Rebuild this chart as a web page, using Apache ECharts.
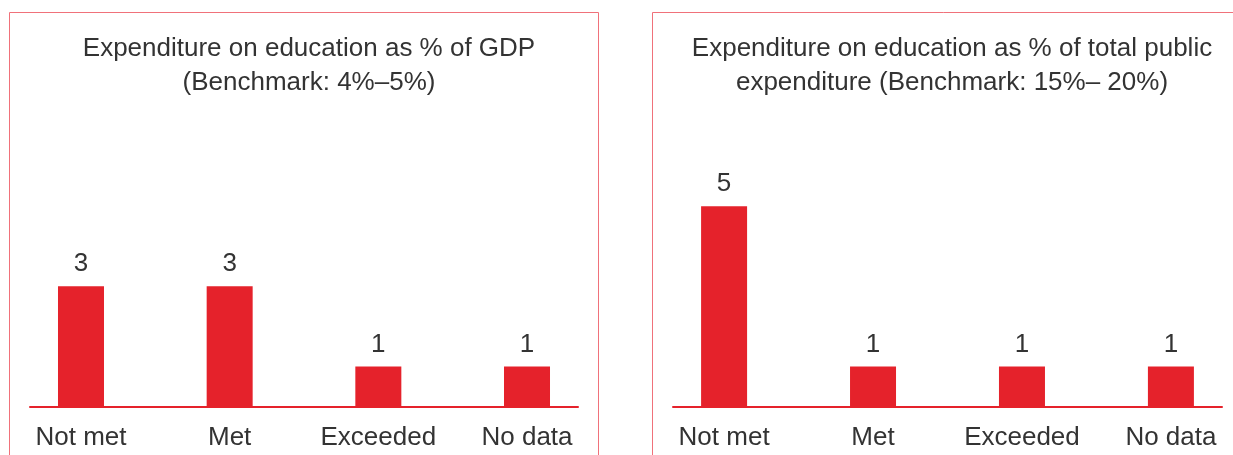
<!DOCTYPE html>
<html>
<head>
<meta charset="utf-8">
<script src="https://cdn.jsdelivr.net/npm/echarts@6/dist/echarts.min.js"></script>
<style>
  html, body { margin: 0; padding: 0; background: #fff; }
  #main { width: 1233px; height: 455px; }
</style>
</head>
<body>
<div id="main"></div>
<script>
var categories = ['Not met', 'Met', 'Exceeded', 'No data'];
var gdpValues = [3, 3, 1, 1];
var publicValues = [5, 1, 1, 1];
var gdpTitle = 'Expenditure on education as % of GDP\n(Benchmark: 4%\u20135%)';
var publicTitle = 'Expenditure on education as % of total public\nexpenditure (Benchmark: 15%\u2013 20%)';

var red = '#e5222b';
var frame = '#f0717a';
var textColor = '#333';
var font = 'Liberation Sans';

function toPoints(vals) {
    return vals.map(function (v, i) { return [i, v]; });
}

function xAx(idx) {
    return {
        gridIndex: idx,
        type: 'value',
        min: -0.343,
        max: 3.343,
        axisLine: { show: true, onZero: false, lineStyle: { color: red, width: 2 } },
        axisTick: { show: false },
        splitLine: { show: false },
        axisLabel: {
            customValues: [0, 1, 2, 3],
            formatter: function (v) { return categories[Math.round(v)]; },
            color: textColor,
            fontFamily: font,
            fontSize: 26,
            margin: 18
        }
    };
}

function yAx(idx) {
    return {
        gridIndex: idx,
        type: 'value',
        min: 0,
        max: 7,
        show: false
    };
}

function barSeries(idx, vals) {
    return {
        type: 'bar',
        xAxisIndex: idx,
        yAxisIndex: idx,
        barWidth: 46,
        itemStyle: { color: red },
        label: {
            show: true,
            position: 'top',
            distance: 9,
            color: textColor,
            fontFamily: font,
            fontSize: 26
        },
        data: toPoints(vals)
    };
}

var chart = echarts.init(document.getElementById('main'));
chart.setOption({
    animation: false,
    backgroundColor: '#fff',
    graphic: [
        { type: 'rect', shape: { x: 9.5, y: 12.5, width: 589, height: 460 }, style: { fill: 'none', stroke: frame, lineWidth: 1 } },
        { type: 'rect', shape: { x: 652.5, y: 12.5, width: 600, height: 460 }, style: { fill: 'none', stroke: frame, lineWidth: 1 } }
    ],
    title: [
        {
            text: gdpTitle, left: 304, top: 27, textAlign: 'center',
            textStyle: { color: textColor, fontFamily: font, fontWeight: 'normal', fontSize: 26, lineHeight: 34 }
        },
        {
            text: publicTitle, left: 947, top: 27, textAlign: 'center',
            textStyle: { color: textColor, fontFamily: font, fontWeight: 'normal', fontSize: 26, lineHeight: 34 }
        }
    ],
    grid: [
        { left: 30, right: 655, top: 126, bottom: 48.5 },
        { left: 673, right: 11, top: 126, bottom: 48.5 }
    ],
    xAxis: [xAx(0), xAx(1)],
    yAxis: [yAx(0), yAx(1)],
    series: [barSeries(0, gdpValues), barSeries(1, publicValues)]
});
</script>
</body>
</html>
